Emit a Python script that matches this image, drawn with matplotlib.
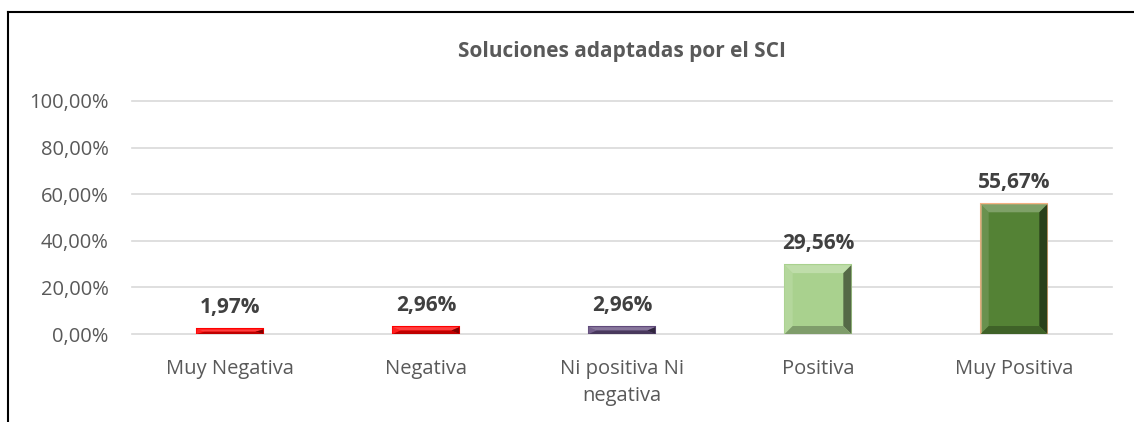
import matplotlib.pyplot as plt
from matplotlib.patches import Polygon
from matplotlib.lines import Line2D
import matplotlib.colors as mc

categories = ['Muy Negativa', 'Negativa', 'Ni positiva Ni\nnegativa', 'Positiva', 'Muy Positiva']
values = [0.0197, 0.0296, 0.0296, 0.2956, 0.5567]
value_labels = ['1,97%', '2,96%', '2,96%', '29,56%', '55,67%']
bar_colors = ['#FF0000', '#FF0000', '#604A7B', '#A9D18E', '#548235']
edge_colors = ['#FF0000', '#FF0000', '#604A7B', '#A9D18E', '#F4B183']
y_ticks = [0, 0.2, 0.4, 0.6, 0.8, 1.0]
y_tick_labels = ['0,00%', '20,00%', '40,00%', '60,00%', '80,00%', '100,00%']

grey = '#595959'
plt.rcParams['font.family'] = ['Open Sans', 'DejaVu Sans']

fig = plt.figure(figsize=(11.34, 4.22), dpi=100)
ax = fig.add_axes([0.1164, 0.2085, 0.8642, 0.5522])

x = list(range(len(categories)))
width = 0.34
ax.set_xlim(-0.5, len(categories) - 0.5)
ax.set_ylim(0, 1.0)

bars = ax.bar(x, values, width=width, color=bar_colors, edgecolor=edge_colors,
              linewidth=1.5, zorder=3)

# bevel effect, about 8 px deep
ax_w = fig.get_figwidth() * fig.dpi * 0.8642
ax_h = fig.get_figheight() * fig.dpi * 0.5522
dx_px = len(categories) / ax_w
dy_px = 1.0 / ax_h
for xi, v, c in zip(x, values, bar_colors):
    x0, x1 = xi - width / 2, xi + width / 2
    bx = min(8 * dx_px, width / 2)
    by = min(8 * dy_px, v / 2)
    rgb = mc.to_rgb(c)
    light = tuple(min(1, 0.75 * ch + 0.25) for ch in rgb)
    dark = tuple(0.5 * ch for ch in rgb)
    mid_dark = tuple(0.75 * ch for ch in rgb)
    ax.add_patch(Polygon([(x0, v), (x1, v), (x1 - bx, v - by), (x0 + bx, v - by)],
                         closed=True, color=light, lw=0, zorder=4))
    ax.add_patch(Polygon([(x0, 0), (x0, v), (x0 + bx, v - by), (x0 + bx, by)],
                         closed=True, color=light, alpha=0.5, lw=0, zorder=4))
    ax.add_patch(Polygon([(x1, 0), (x1, v), (x1 - bx, v - by), (x1 - bx, by)],
                         closed=True, color=dark, lw=0, zorder=4))
    ax.add_patch(Polygon([(x0, 0), (x1, 0), (x1 - bx, by), (x0 + bx, by)],
                         closed=True, color=mid_dark, lw=0, zorder=4))

for xi, v, lab in zip(x, values, value_labels):
    ax.annotate(lab, (xi, v), xytext=(0, 8), textcoords='offset points',
                ha='center', va='bottom', fontsize=15, fontweight='bold',
                color='#404040', zorder=5)

ax.set_yticks(y_ticks)
ax.set_yticklabels(y_tick_labels)
ax.set_xticks(x)
ax.set_xticklabels(categories, linespacing=1.45)
ax.tick_params(axis='y', length=0, pad=17, labelsize=14.5, labelcolor=grey)
ax.tick_params(axis='x', length=0, pad=18, labelsize=14.5, labelcolor=grey)
ax.grid(axis='y', color='#D9D9D9', linewidth=1.2, zorder=0)
ax.set_axisbelow(True)
for s in ax.spines.values():
    s.set_visible(False)
for gl in ax.get_ygridlines():
    gl.set_clip_on(False)

fig.text(0.5485, 0.877, 'Soluciones adaptadas por el SCI', ha='center', va='center',
         fontsize=15, fontweight='bold', color=grey)

# outer chart frame (only left and top edges visible)
fig.add_artist(Line2D([0.0068, 0.0068], [0, 0.972], color='black', lw=1.5,
                      transform=fig.transFigure))
fig.add_artist(Line2D([0.0068, 1.0], [0.972, 0.972], color='black', lw=1.5,
                      transform=fig.transFigure))

fig.savefig('out.png', dpi=100, facecolor='white')
